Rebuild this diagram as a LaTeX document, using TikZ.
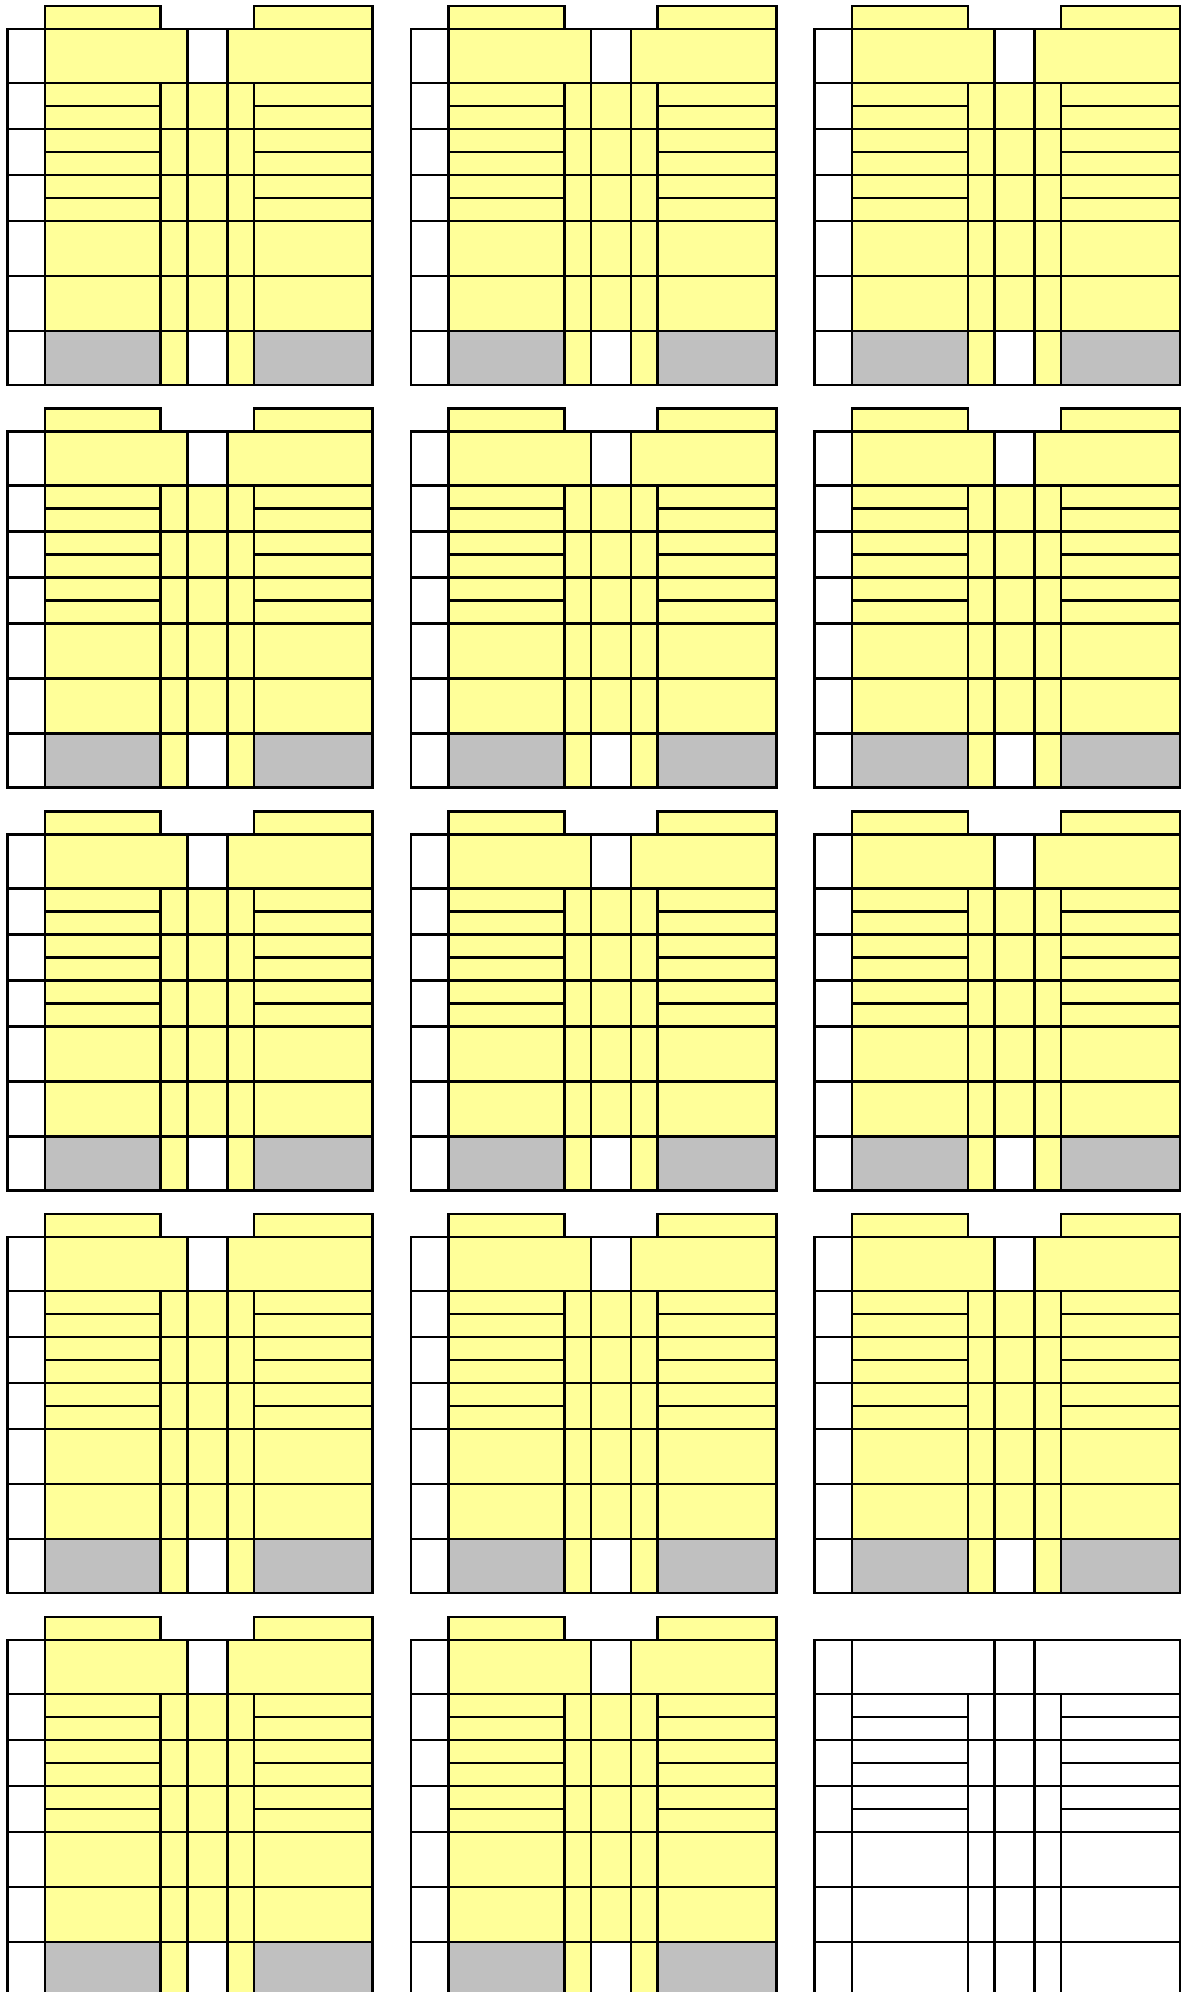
\documentclass[tikz,border=0pt]{standalone}
\usepackage{tikz}
\definecolor{paleyellow}{HTML}{FFFF99}
\definecolor{silvergrey}{HTML}{C0C0C0}

\begin{document}
\begin{tikzpicture}[x=0.5pt, y=-0.5pt, line width=1.25pt]
\useasboundingbox (0,0) rectangle (1183,1992);
\clip (0,0) rectangle (1183,1992);
% Tiles - 5 rows of 3, the last one left blank
\foreach \r in {0,...,4} {
  \foreach \c in {0,...,2} {
    \pgfmathtruncatemacro{\idx}{3*\r+\c}
    \begin{scope}[shift={(7.3+403.6*\c, 6+402.7*\r)}]
      \ifnum\idx<14
        % Fills
        \fill[paleyellow] (37.7,23) rectangle (365.4,379);
        \fill[white] (180,23) rectangle (220,77);
        \fill[white] (180,325) rectangle (220,379);
        \fill[silvergrey] (37.7,325) rectangle (153.4,379);
        \fill[silvergrey] (246.7,325) rectangle (365.4,379);
        % Tabs
        \filldraw[fill=paleyellow] (37.7,23) -- (37.7,0) -- (153.4,0) -- (153.4,23);
        \filldraw[fill=paleyellow] (246.7,23) -- (246.7,0) -- (365.4,0) -- (365.4,23);
      \fi
      % Grid
      \draw (0,23) rectangle (365.4,379);
      \foreach \x in {37.7,180,220} \draw (\x,23) -- (\x,379);
      \foreach \x in {153.4,246.7} \draw (\x,77) -- (\x,379);
      \foreach \y in {77,123,169,215,270,325} \draw (0,\y) -- (365.4,\y);
      \foreach \y in {100,146,192} {
        \draw (37.7,\y) -- (153.4,\y);
        \draw (246.7,\y) -- (365.4,\y);
      }
    \end{scope}
  }
}
\end{tikzpicture}
\end{document}
